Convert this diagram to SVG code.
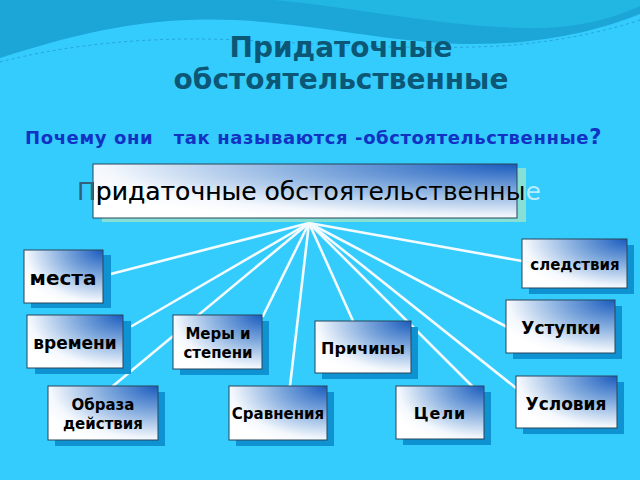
<svg xmlns="http://www.w3.org/2000/svg" width="640" height="480" viewBox="0 0 640 480">
<defs>
<radialGradient id="boxg" cx="1" cy="0" r="1.15" fx="1" fy="0" gradientUnits="objectBoundingBox">
<stop offset="0" stop-color="#1A5BBE"/>
<stop offset="0.45" stop-color="#86AEDF"/>
<stop offset="0.85" stop-color="#F4F8FD"/>
<stop offset="1" stop-color="#FFFFFF"/>
</radialGradient>
<linearGradient id="ghost" x1="75" y1="0" x2="545" y2="0" gradientUnits="userSpaceOnUse">
<stop offset="0" stop-color="#2F5F78"/>
<stop offset="1" stop-color="#BDEFFF"/>
</linearGradient>
<clipPath id="mainclip"><rect x="93" y="164" width="433" height="58"/></clipPath>
</defs>
<style>
.box{fill:url(#boxg);stroke:#26465A;stroke-width:1}
.sh{fill:#0F92D2}
.lbl{font-family:"DejaVu Sans","Noto Sans",sans-serif;font-weight:bold;fill:#000;text-anchor:middle}
.con line{stroke:#F2FBFF;stroke-width:2.6;stroke-linecap:round}
</style>
<rect x="0" y="0" width="640" height="480" fill="#34CCFD"/>
<path d="M0,0 H640 V14 C600,30 545,44 475,44 C395,44 320,24 235,20 C150,16 80,32 0,58 Z" fill="#1CA6D8"/>
<path d="M275,0 C360,8 460,30 545,28 C590,26 620,15 640,6 V0 Z" fill="#22B7E2"/>
<path d="M0,62 C70,44 150,36 240,40 C330,45 420,50 500,46 C560,42 610,30 640,20" fill="none" stroke="#1A8EC2" stroke-width="1" stroke-dasharray="3 3" opacity="0.6"/>
<text x="341" y="57" font-family="DejaVu Sans, sans-serif" font-weight="bold" font-size="28" fill="#0B5775" text-anchor="middle">Придаточные</text>
<text x="341" y="89" font-family="DejaVu Sans, sans-serif" font-weight="bold" font-size="28" fill="#0B5775" text-anchor="middle">обстоятельственные</text>
<text x="25" y="144" font-family="DejaVu Sans, sans-serif" font-weight="bold" font-size="18" letter-spacing="0.6" fill="#1232C4" xml:space="preserve">Почему они   так называются -обстоятельственные<tspan font-size="21">?</tspan></text>
<g id="connectors" class="con">
<line x1="309" y1="223" x2="103" y2="276"/>
<line x1="309" y1="223" x2="132" y2="326"/>
<line x1="309" y1="223" x2="113" y2="386"/>
<line x1="309" y1="223" x2="263" y2="316"/>
<line x1="309" y1="223" x2="290" y2="386"/>
<line x1="309" y1="223" x2="353" y2="321"/>
<line x1="309" y1="223" x2="472" y2="386"/>
<line x1="309" y1="223" x2="516" y2="388"/>
<line x1="309" y1="223" x2="507" y2="327"/>
<line x1="309" y1="223" x2="522" y2="261"/>
</g>
<g id="main">
<rect x="102" y="168" width="424" height="54" fill="#86E0D6"/>
<rect class="box" x="93" y="164" width="424" height="54"/>
<text x="77" y="200" font-family="DejaVu Sans, sans-serif" font-size="25" fill="url(#ghost)">Придаточные обстоятельственные</text>
<text x="77" y="200" font-family="DejaVu Sans, sans-serif" font-size="25" fill="#000" clip-path="url(#mainclip)">Придаточные обстоятельственные</text>
</g>
<g id="mesta">
<rect class="sh" x="31" y="255" width="80" height="53"/>
<rect class="box" x="24" y="250" width="79" height="53"/>
<text class="lbl" x="63" y="285" font-size="20">места</text>
</g>
<g id="sledstviya">
<rect class="sh" x="529" y="245" width="105" height="49"/>
<rect class="box" x="522" y="239" width="105" height="49"/>
<text class="lbl" x="575" y="270" font-size="15">следствия</text>
</g>
<g id="ustupki">
<rect class="sh" x="513" y="306" width="109" height="53"/>
<rect class="box" x="506" y="300" width="109" height="53"/>
<text class="lbl" x="561" y="334" font-size="17">Уступки</text>
</g>
<g id="vremeni">
<rect class="sh" x="35" y="321" width="96" height="53"/>
<rect class="box" x="27" y="315" width="96" height="53"/>
<text class="lbl" x="75" y="349" font-size="17">времени</text>
</g>
<g id="mery">
<rect class="sh" x="180" y="321" width="89" height="54"/>
<rect class="box" x="173" y="315" width="89" height="54"/>
<text class="lbl" x="218" y="339" font-size="15">Меры и</text>
<text class="lbl" x="218" y="358" font-size="15">степени</text>
</g>
<g id="prichiny">
<rect class="sh" x="322" y="327" width="96" height="52"/>
<rect class="box" x="315" y="321" width="96" height="52"/>
<text class="lbl" x="363" y="354" font-size="16">Причины</text>
</g>
<g id="usloviya">
<rect class="sh" x="523" y="382" width="101" height="52"/>
<rect class="box" x="516" y="376" width="101" height="52"/>
<text class="lbl" x="566" y="410" font-size="17">Условия</text>
</g>
<g id="obraza">
<rect class="sh" x="55" y="392" width="110" height="54"/>
<rect class="box" x="48" y="386" width="110" height="54"/>
<text class="lbl" x="103" y="410" font-size="15">Образа</text>
<text class="lbl" x="103" y="429" font-size="15">действия</text>
</g>
<g id="sravneniya">
<rect class="sh" x="236" y="392" width="98" height="54"/>
<rect class="box" x="229" y="386" width="98" height="54"/>
<text class="lbl" x="278" y="419" font-size="15">Сравнения</text>
</g>
<g id="celi">
<rect class="sh" x="403" y="392" width="88" height="53"/>
<rect class="box" x="396" y="386" width="88" height="53"/>
<text class="lbl" x="440" y="419" font-size="16" letter-spacing="1">Цели</text>
</g>
</svg>
